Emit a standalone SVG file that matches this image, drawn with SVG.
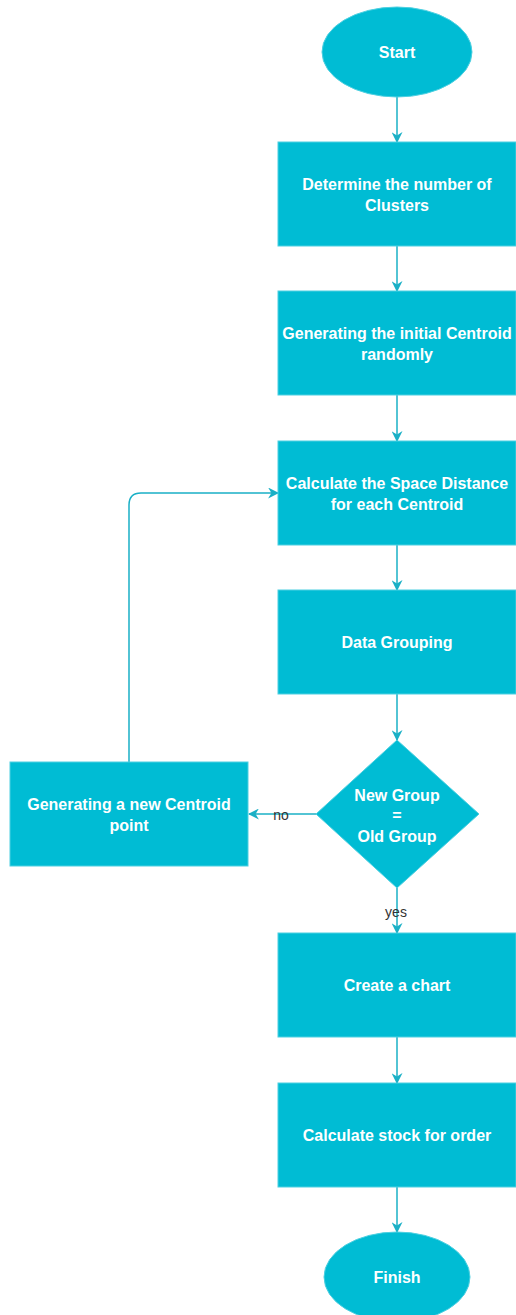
<svg xmlns="http://www.w3.org/2000/svg" width="516" height="1315" viewBox="0 0 516 1315">
<style>
.n{fill:#00bcd4;stroke:#4dd0e1;stroke-width:1}
.t{font-family:"Liberation Sans",Arial,sans-serif;font-size:16px;font-weight:bold;fill:#ffffff;text-anchor:middle}
.c{fill:none;stroke:#1ab0c6;stroke-width:1.5}
.l{font-family:"Liberation Sans",Arial,sans-serif;font-size:14px;fill:#333333;text-anchor:middle}
</style>
<defs>
<marker id="a" viewBox="0 0 10 10" refX="9" refY="5" markerWidth="11" markerHeight="11" markerUnits="userSpaceOnUse" orient="auto">
<path d="M0,0 L10,5 L0,10 L3,5 Z" fill="#1ab0c6"/>
</marker>
</defs>
<g id="connectors">
<path class="c" d="M397,97 V142" marker-end="url(#a)"/>
<path class="c" d="M397,246 V291" marker-end="url(#a)"/>
<path class="c" d="M397,395 V441" marker-end="url(#a)"/>
<path class="c" d="M397,545 V590" marker-end="url(#a)"/>
<path class="c" d="M397,694 V740" marker-end="url(#a)"/>
<path class="c" d="M316,814 H249" marker-end="url(#a)"/>
<path class="c" d="M397,888 V933" marker-end="url(#a)"/>
<path class="c" d="M397,1037 V1083" marker-end="url(#a)"/>
<path class="c" d="M397,1187 V1232" marker-end="url(#a)"/>
<path class="c" d="M129,762 V505 Q129,493 141,493 H278" marker-end="url(#a)"/>
<text class="l" x="281" y="820">no</text>
<text class="l" x="396" y="917">yes</text>
</g>
<g id="start">
<ellipse class="n" cx="397" cy="52" rx="75" ry="45"/>
<text class="t" x="397" y="58">Start</text>
</g>
<g id="clusters">
<rect class="n" x="278" y="142" width="238" height="104"/>
<text class="t" x="397" y="190">Determine the number of</text>
<text class="t" x="397" y="211">Clusters</text>
</g>
<g id="initial">
<rect class="n" x="278" y="291" width="238" height="104"/>
<text class="t" x="397" y="339">Generating the initial Centroid</text>
<text class="t" x="397" y="360">randomly</text>
</g>
<g id="distance">
<rect class="n" x="278" y="441" width="238" height="104"/>
<text class="t" x="397" y="489">Calculate the Space Distance</text>
<text class="t" x="397" y="510">for each Centroid</text>
</g>
<g id="grouping">
<rect class="n" x="278" y="590" width="238" height="104"/>
<text class="t" x="397" y="648">Data Grouping</text>
</g>
<g id="decision">
<path class="n" d="M397,740 L479,814 L397,888 L316,814 Z"/>
<text class="t" x="397" y="801">New Group</text>
<text class="t" x="397" y="821">=</text>
<text class="t" x="397" y="842">Old Group</text>
</g>
<g id="newcentroid">
<rect class="n" x="10" y="762" width="238" height="104"/>
<text class="t" x="129" y="810">Generating a new Centroid</text>
<text class="t" x="129" y="831">point</text>
</g>
<g id="chart">
<rect class="n" x="278" y="933" width="238" height="104"/>
<text class="t" x="397" y="991">Create a chart</text>
</g>
<g id="stock">
<rect class="n" x="278" y="1083" width="238" height="104"/>
<text class="t" x="397" y="1141">Calculate stock for order</text>
</g>
<g id="finish">
<ellipse class="n" cx="397" cy="1277" rx="73" ry="45"/>
<text class="t" x="397" y="1283">Finish</text>
</g>
</svg>
